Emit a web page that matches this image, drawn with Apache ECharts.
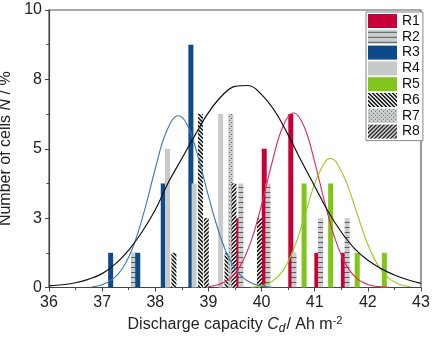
<!DOCTYPE html>
<html><head><meta charset="utf-8">
<script src="https://cdn.jsdelivr.net/npm/echarts@6/dist/echarts.min.js"></script>
<style>html,body{margin:0;padding:0;background:#fff}#c{width:433px;height:339px}</style>
</head><body><div id="c"></div>
<script>
// ---- data ----
const xTicks = [36, 37, 38, 39, 40, 41, 42, 43];
const yTickLabels = ['0', '3', '5', '8', '10'];   // drawn at 0, 2.5, 5, 7.5, 10
const seriesNames = ['R1', 'R2', 'R3', 'R4', 'R5', 'R6', 'R7', 'R8'];

const r1X = [39.54, 40.05, 40.55, 41.04, 41.54];
const r1Y = [2.5, 5, 6.25, 1.25, 1.25];
const r2X = [37.59, 39.61, 40.12, 40.61, 41.11, 41.61];
const r2Y = [1.25, 3.75, 3.75, 1.25, 2.5, 2.5];
const r3X = [37.16, 37.67, 38.15, 38.67];
const r3Y = [1.25, 1.25, 3.75, 8.75];
const r4X = [38.23, 38.73, 39.23];
const r4Y = [5, 3.75, 6.25];
const r5X = [40.80, 41.30, 41.80, 42.31];
const r5Y = [3.75, 3.75, 1.25, 1.25];
const r6X = [38.35, 38.85, 39.35];
const r6Y = [1.25, 6.25, 1.25];
const r7X = [39.42];
const r7Y = [6.25];
const r8X = [38.96, 39.48, 39.96];
const r8Y = [2.5, 3.75, 2.5];

// fitted curves
const blueFitX = [36.8, 37.0, 37.2, 37.4, 37.6, 37.8, 38.0, 38.2, 38.43, 38.6, 38.8, 39.0, 39.2, 39.4, 39.6, 39.8, 40.0, 40.2];
const blueFitY = [0.02, 0.1, 0.3, 0.74, 1.56, 2.8, 4.28, 5.57, 6.19, 5.87, 4.75, 3.3, 1.98, 1.0, 0.45, 0.17, 0.05, 0.01];
const redFitX = [39.0, 39.2, 39.4, 39.6, 39.8, 40.0, 40.2, 40.4, 40.6, 40.8, 41.0, 41.2, 41.4, 41.6, 41.8, 42.0, 42.2, 42.4];
const redFitY = [0.03, 0.11, 0.31, 0.78, 1.66, 2.98, 4.52, 5.8, 6.3, 5.8, 4.52, 2.98, 1.66, 0.78, 0.31, 0.11, 0.03, 0.01];
const greenFitX = [39.8, 40.0, 40.2, 40.4, 40.6, 40.8, 41.0, 41.2, 41.3, 41.4, 41.6, 41.8, 42.0, 42.2, 42.4, 42.6, 42.8];
const greenFitY = [0.01, 0.06, 0.22, 0.6, 1.36, 2.5, 3.74, 4.55, 4.65, 4.53, 3.77, 2.64, 1.55, 0.77, 0.32, 0.11, 0.03];
const blackFitX = [36.0, 36.25, 36.5, 36.75, 37.0, 37.25, 37.5, 37.75, 38.0, 38.25, 38.5, 38.75, 39.0, 39.25, 39.5, 39.75, 40.0, 40.25, 40.5, 40.75, 41.0, 41.25, 41.5, 41.75, 42.0, 42.25, 42.5, 42.75, 43.0];
const blackFitY = [0.06, 0.1, 0.17, 0.3, 0.5, 0.85, 1.35, 2.0, 2.8, 3.8, 4.65, 5.5, 6.3, 6.9, 7.25, 7.28, 6.95, 6.35, 5.5, 4.55, 3.65, 2.75, 2.0, 1.4, 0.98, 0.68, 0.45, 0.28, 0.15];

// ---- patterns ----
function pattern(w, h, bg, draw) {
  const c = document.createElement('canvas');
  c.width = w; c.height = h;
  const g = c.getContext('2d');
  g.fillStyle = bg; g.fillRect(0, 0, w, h);
  g.fillStyle = '#2a2a2a';
  draw(g);
  return { image: c, repeat: 'repeat' };
}
const patR2 = pattern(4, 5, '#c9cecc', g => { g.fillStyle = '#5a5a5a'; g.fillRect(0, 2, 4, 1); });
const patR6 = pattern(4, 4, '#d6d6d6', g => { for (let i = 0; i < 4; i++) { g.fillRect(i, i, 1, 1); g.fillRect((i + 1) % 4, i, 1, 1); } });
const patR7 = pattern(4, 4, '#c9cecc', g => { g.fillStyle = '#6a6a6a'; g.fillRect(1, 0, 1, 1); g.fillRect(3, 2, 1, 1); });
const patR8 = pattern(4, 4, '#d6d6d6', g => { for (let i = 0; i < 4; i++) { g.fillRect(3 - i, i, 1, 1); g.fillRect((4 - i) % 4, i, 1, 1); } });

const zip = (xs, ys) => xs.map((x, i) => [x, ys[i]]);
const FONT = 'Liberation Sans';
const FS = 16;

function bar(name, xs, ys, color) {
  return { name, type: 'bar', data: zip(xs, ys), barWidth: 5, barGap: '-100%',
    itemStyle: { color }, emphasis: { disabled: true } };
}
function fit(name, xs, ys, color, w) {
  return { name, type: 'line', data: zip(xs, ys), smooth: 0.4, showSymbol: false, symbol: 'none',
    lineStyle: { color, width: w }, z: 5, emphasis: { disabled: true } };
}

const chart = echarts.init(document.getElementById('c'), null, { renderer: 'canvas' });
chart.setOption({
  animation: false,
  textStyle: { fontFamily: FONT },
  grid: { left: 49, right: 12, top: 10, bottom: 51.5, show: true, borderColor: '#555', borderWidth: 1.2,
    containLabel: false, outerBoundsMode: 'none' },
  legend: {
    data: seriesNames, orient: 'vertical', left: 366, top: 12,
    itemWidth: 29, itemHeight: 14, itemGap: 1.8, icon: 'rect',
    padding: [2, 3, 2, 2], borderColor: '#888', borderWidth: 1, backgroundColor: '#fff',
    textStyle: { fontSize: 14, color: '#111', fontFamily: FONT }
  },
  xAxis: {
    type: 'value', min: xTicks[0], max: xTicks[xTicks.length - 1], interval: 1,
    axisLine: { lineStyle: { color: '#444', width: 1.2 } },
    axisTick: { show: true, length: 4, lineStyle: { color: '#444' } },
    minorTick: { show: true, splitNumber: 2, length: 2.5, lineStyle: { color: '#444' } },
    splitLine: { show: false },
    axisLabel: { fontSize: FS, color: '#222', margin: 7, fontFamily: FONT },
    name: 'Discharge capacity {i|C}{sub|d}{n|/ Ah m}{sup|-2}',
    nameLocation: 'middle', nameGap: 26,
    nameTextStyle: { fontSize: FS, color: '#222', fontFamily: FONT,
      rich: {
        i: { fontSize: FS, fontStyle: 'italic', color: '#222', fontFamily: FONT },
        sub: { fontSize: 12, fontStyle: 'italic', color: '#222', fontFamily: FONT, padding: [8, 1, 0, 0] },
        n: { fontSize: FS, color: '#222', fontFamily: FONT },
        sup: { fontSize: 11, color: '#222', fontFamily: FONT, padding: [0, 0, 8, 0] }
      } }
  },
  yAxis: {
    type: 'value', min: 0, max: 10, interval: 2.5,
    axisLine: { show: true, lineStyle: { color: '#444', width: 1.2 } },
    axisTick: { show: true, length: 4, lineStyle: { color: '#444' } },
    minorTick: { show: true, splitNumber: 2, length: 2.5, lineStyle: { color: '#444' } },
    splitLine: { show: false },
    axisLabel: { fontSize: FS, color: '#222', margin: 7, fontFamily: FONT,
      formatter: (v) => yTickLabels[Math.round(v / 2.5)] },
    name: 'Number of cells {i|N} / %',
    nameLocation: 'middle', nameGap: 28,
    nameTextStyle: { fontSize: FS, color: '#222', fontFamily: FONT,
      rich: { i: { fontSize: FS, fontStyle: 'italic', color: '#222', fontFamily: FONT } } }
  },
  series: [
    bar('R1', r1X, r1Y, '#c8003a'),
    bar('R2', r2X, r2Y, patR2),
    bar('R3', r3X, r3Y, '#0e4a88'),
    bar('R4', r4X, r4Y, '#c6cbc9'),
    bar('R5', r5X, r5Y, '#80c41c'),
    bar('R6', r6X, r6Y, patR6),
    bar('R7', r7X, r7Y, patR7),
    bar('R8', r8X, r8Y, patR8),
    fit('fit R3', blueFitX, blueFitY, '#3a78b5', 1.1),
    fit('fit R1', redFitX, redFitY, '#e0245a', 1.1),
    fit('fit R5', greenFitX, greenFitY, '#8fd01c', 1.1),
    fit('fit all', blackFitX, blackFitY, '#111', 1.2)
  ]
});
</script></body></html>
